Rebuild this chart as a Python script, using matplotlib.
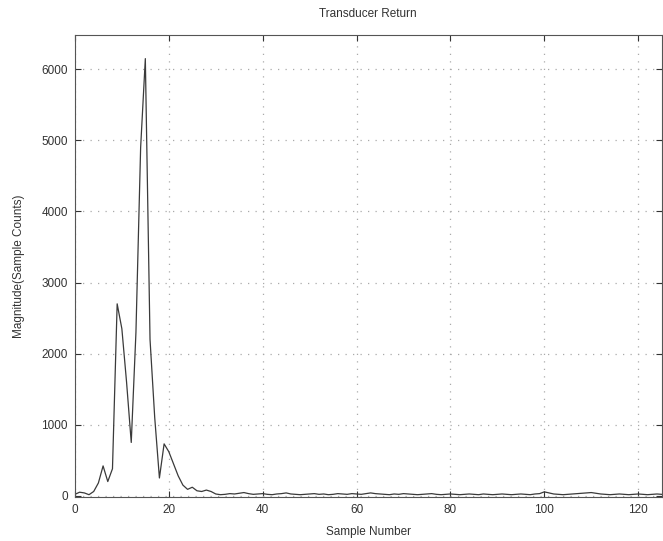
import matplotlib.pyplot as plt

plt.rcParams['font.family'] = ['Liberation Sans', 'DejaVu Sans']

# Transducer return magnitude per sample
magnitude = [
    20, 50, 40, 15, 60, 180, 420, 200, 380, 2700,
    2350, 1600, 750, 2300, 4900, 6150, 2200, 1100, 250, 730,
    620, 450, 280, 150, 90, 120, 70, 60, 80, 60,
    25, 15, 20, 30, 25, 35, 45, 30, 20, 25,
    30, 20, 15, 25, 30, 40, 25, 20, 15, 20,
    25, 30, 20, 25, 15, 20, 30, 25, 20, 30,
    25, 20, 30, 40, 30, 25, 20, 15, 25, 20,
    30, 25, 20, 15, 20, 25, 30, 20, 15, 20,
    25, 20, 15, 20, 25, 20, 15, 25, 20, 15,
    20, 25, 20, 15, 20, 25, 20, 15, 25, 30,
    55, 40, 25, 20, 15, 20, 25, 30, 35, 40,
    45, 35, 25, 20, 15, 20, 25, 20, 15, 20,
    25, 20, 15, 20, 25, 20,
]
samples = list(range(len(magnitude)))

fig = plt.figure(figsize=(6.63, 5.41), dpi=100)
ax = fig.add_axes([0.113, 0.081, 0.885, 0.854])
ax.plot(samples, magnitude, color='#3a3a3a', linewidth=0.9)

ax.set_xlim(0, 125)
ax.set_ylim(-20, 6480)
ax.set_xticks(range(0, 121, 20))
ax.set_yticks(range(0, 6001, 1000))
ax.tick_params(direction='in', labelsize=8.5, colors='#333333', length=4,
               top=True, right=True, pad=5)
ax.grid(True, linestyle=(0, (1, 5)), color='#aaaaaa', linewidth=0.9)
for s in ax.spines.values():
    s.set_color('#555555')

ax.set_title('Transducer Return', fontsize=8.5, color='#333333', pad=13)
ax.set_xlabel('Sample Number', fontsize=8.5, color='#333333', labelpad=7)
ax.set_ylabel('Magnitude(Sample Counts)', fontsize=8.5, color='#333333',
              labelpad=12)

fig.savefig('out.png', dpi=100)
